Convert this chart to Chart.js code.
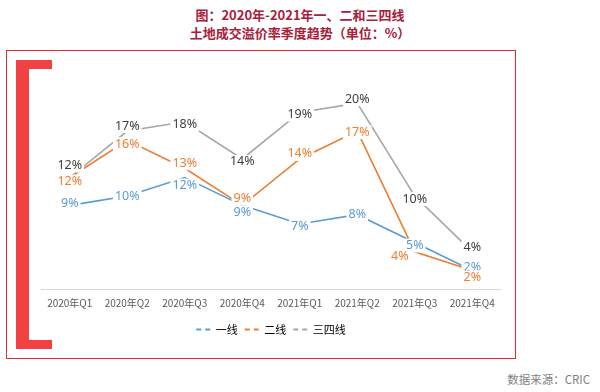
<!DOCTYPE html>
<html>
<head>
<meta charset="utf-8">
<script src="https://cdn.jsdelivr.net/npm/chart.js@4/dist/chart.umd.min.js"></script>
<style>
  body { margin: 0; background: #fff; }
  #wrap { position: relative; width: 600px; height: 392px; overflow: hidden; font-family: "Noto Sans CJK SC", "Noto Sans", sans-serif; }
  .title { position: absolute; left: 0; width: 600px; text-align: center; color: #a8203a; font-weight: bold; font-size: 13px; line-height: 18px; }
  #frame { position: absolute; left: 6px; top: 50px; width: 508px; height: 307px; border: 1px solid #e02c2c; }
  .br { position: absolute; background: #f24141; }
  #src { position: absolute; right: 10px; top: 371px; font-size: 11.5px; color: #7f7f7f; }
  canvas { position: absolute; left: 0; top: 0; }
</style>
</head>
<body>
<div id="wrap">
  <div class="title" style="top:6px">图：2020年-2021年一、二和三四线</div>
  <div class="title" style="top:24px">土地成交溢价率季度趋势（单位：%）</div>
  <div id="frame"></div>
  <div class="br" style="left:16px;top:60px;width:13px;height:289px"></div>
  <div class="br" style="left:16px;top:60px;width:36px;height:9px"></div>
  <div class="br" style="left:16px;top:340px;width:36px;height:9px"></div>
  <div id="src">数据来源：CRIC</div>
  <canvas id="chart" width="600" height="392"></canvas>
</div>
<script>
// quarters and premium rates (%)
const quarters = ['2020年Q1', '2020年Q2', '2020年Q3', '2020年Q4', '2021年Q1', '2021年Q2', '2021年Q3', '2021年Q4'];
const tier1 = [9, 10, 12, 9, 7, 8, 5, 2];
const tier2 = [12, 16, 13, 9, 14, 17, 4, 2];
const tier34 = [12, 17, 18, 14, 19, 20, 10, 4];
const seriesNames = ['一线', '二线', '三四线'];

const colors = ['#5b9bd5', '#ed7d31', '#a5a5a5'];
const labelColors = ['#5b9bd5', '#ed7d31', '#404040'];
// small label nudges [dx, dy] so labels don't collide
const nudges = [
  [[0,-2],[0,0],[0,8],[0,7],[0,2],[0,0],[0,3],[0,-3]],
  [[0,4],[0,4],[0,-5],[0,-7],[0,-5],[0,1],[-15,5],[0,7]],
  [[0,-12],[0,-5],[0,3],[0,3],[0,2],[0,-4],[0,3],[0,-4]]
];

// draws the value labels with a white box, which also breaks the line around them
const valueLabels = {
  id: 'valueLabels',
  afterDatasetsDraw(chart) {
    const ctx = chart.ctx;
    ctx.save();
    ctx.font = '12.5px "Noto Sans", "DejaVu Sans", sans-serif';
    ctx.textAlign = 'center';
    ctx.textBaseline = 'middle';
    chart.data.datasets.forEach((ds, i) => {
      let meta = chart.getDatasetMeta(i);
      meta.data.forEach((pt, j) => {
        let txt = ds.data[j] + '%';
        let x = pt.x + nudges[i][j][0];
        let y = pt.y + nudges[i][j][1];
        let w = ctx.measureText(txt).width;
        ctx.fillStyle = '#fff';
        ctx.fillRect(x - w / 2 - 2, y - 7, w + 4, 14);
        ctx.fillStyle = labelColors[i];
        ctx.fillText(txt, x, y);
      });
    });
    ctx.restore();
  }
};

let ctx = document.getElementById('chart').getContext('2d');
new Chart(ctx, {
  type: 'line',
  data: {
    labels: quarters,
    datasets: [tier1, tier2, tier34].map((d, i) => ({
      label: seriesNames[i],
      data: d,
      borderColor: colors[i],
      backgroundColor: colors[i],
      borderWidth: 1.6,
      pointRadius: 0,
      tension: 0
    }))
  },
  options: {
    responsive: false,
    animation: false,
    layout: { padding: { left: 41, right: 99, top: 66, bottom: 47 } },
    scales: {
      x: {
        offset: true,
        grid: { display: false, drawTicks: false },
        border: { color: '#d9d9d9' },
        ticks: { color: '#595959', padding: 8, font: { size: 10, family: '"Noto Sans CJK SC", sans-serif' } }
      },
      y: { display: false, min: 0, max: 24 }
    },
    plugins: {
      legend: {
        position: 'bottom',
        labels: {
          usePointStyle: true,
          pointStyleWidth: 14,
          boxWidth: 14,
          boxHeight: 8,
          padding: 7,
          color: '#595959',
          font: { size: 11, family: '"Noto Sans CJK SC", sans-serif' },
          generateLabels(chart) {
            return chart.data.datasets.map((ds, i) => ({
              text: ds.label,
              strokeStyle: colors[i],
              fillStyle: colors[i],
              lineWidth: 2,
              lineDash: [5, 4],
              pointStyle: 'line',
              datasetIndex: i
            }));
          }
        }
      },
      tooltip: { enabled: false }
    }
  },
  plugins: [valueLabels]
});
</script>
</body>
</html>
